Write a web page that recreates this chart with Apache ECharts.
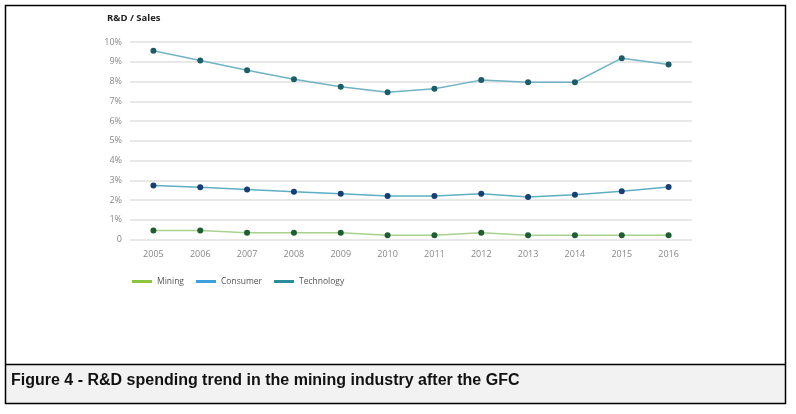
<!DOCTYPE html>
<html><head><meta charset="utf-8">
<script src="https://cdn.jsdelivr.net/npm/echarts@6/dist/echarts.min.js"></script>
<style>html,body{margin:0;padding:0;background:#fff}#c{width:796px;height:414px}</style>
</head><body><div id="c"></div>
<script>
const years = ['2005','2006','2007','2008','2009','2010','2011','2012','2013','2014','2015','2016'];
const mining = [0.45,0.45,0.34,0.34,0.34,0.22,0.22,0.34,0.22,0.22,0.22,0.22];
const consumer = [2.74,2.64,2.53,2.42,2.32,2.2,2.2,2.32,2.15,2.27,2.44,2.66];
const technology = [9.56,9.06,8.57,8.11,7.73,7.46,7.63,8.07,7.96,7.96,9.18,8.86];
const yTickLabels = ['0','1%','2%','3%','4%','5%','6%','7%','8%','9%','10%'];
const caption = 'Figure 4 - R&D spending trend in the mining industry after the GFC';

const chart = echarts.init(document.getElementById('c'));
const F = '"Open Sans", sans-serif';
function ser(name, data, lineColor, markColor) {
  return {name, type:'line', data, symbol:'circle', symbolSize:6,
    lineStyle:{color:lineColor, width:1.5},
    itemStyle:{color:markColor}, z: 3};
}
chart.setOption({
  animation:false,
  title:{text:'R&D / Sales', left:102, top:8, textStyle:{fontFamily:F, fontSize:9.5, fontWeight:'bold', color:'#222'}},
  grid:{left:130, top:42, width:562, height:197.5},
  xAxis:{type:'category', data:years, boundaryGap:true,
    axisLine:{show:false}, axisTick:{show:false},
    axisLabel:{fontFamily:F, fontSize:9, color:'#888', margin:10}},
  yAxis:{type:'value', min:0, max:10, interval:1,
    axisLine:{show:false}, axisTick:{show:false},
    splitLine:{lineStyle:{color:'#e0e0e0', width:1.5}},
    axisLabel:{fontFamily:F, fontSize:9, color:'#888', margin:8,
      formatter:(v)=>yTickLabels[Math.round(v)]}},
  legend:{left:127, top:272, icon:'rect', itemWidth:20, itemHeight:3, itemGap:12,
    textStyle:{fontFamily:F, fontSize:8.5, color:'#555'},
    data:[{name:'Mining', itemStyle:{color:'#8cc63f'}},
          {name:'Consumer', itemStyle:{color:'#3fa0e0'}},
          {name:'Technology', itemStyle:{color:'#2b8c9c'}}]},
  series:[
    ser('Mining', mining, '#a9d18e', '#1e5e32'),
    ser('Consumer', consumer, '#5eaec4', '#173f74'),
    ser('Technology', technology, '#6fb3c4', '#1d5d68')
  ],
  graphic:[
    {type:'rect', shape:{x:6, y:364.5, width:779, height:38.5}, style:{fill:'#f2f2f2'}, z:-1},
    {type:'rect', shape:{x:5.5, y:5.5, width:780, height:398}, style:{fill:'none', stroke:'#000', lineWidth:1.5}},
    {type:'line', shape:{x1:5.5, y1:364.5, x2:785.5, y2:364.5}, style:{stroke:'#000', lineWidth:1.3}},
    {type:'text', left:11, top:373, style:{text:caption, fontFamily:'"Liberation Sans Narrow", sans-serif', fontWeight:'bold', fontSize:16, fill:'#111'}}
  ]
});
</script></body></html>
